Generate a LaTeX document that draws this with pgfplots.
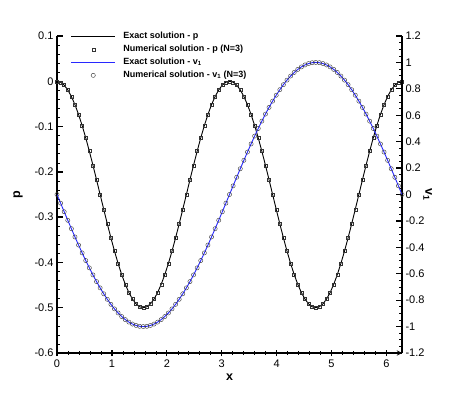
\documentclass[border=0pt]{standalone}
\usepackage{fontspec}
\setmainfont{Liberation Sans}
\usepackage{pgfplots}
\usepackage{pgfplotstable}
\pgfplotsset{compat=1.18}

\definecolor{vblue}{RGB}{40,40,255}

% x, exact p, exact v1
\pgfplotstableread{
x p v
0.0000 0 0
0.0654 -0.0021 -0.0654
0.1309 -0.0085 -0.1305
0.1963 -0.0190 -0.1951
0.2618 -0.0335 -0.2588
0.3272 -0.0517 -0.3214
0.3927 -0.0732 -0.3827
0.4581 -0.0978 -0.4423
0.5236 -0.1250 -0.5000
0.5890 -0.1543 -0.5556
0.6545 -0.1853 -0.6088
0.7199 -0.2174 -0.6593
0.7854 -0.2500 -0.7071
0.8508 -0.2826 -0.7518
0.9163 -0.3147 -0.7934
0.9817 -0.3457 -0.8315
1.0472 -0.3750 -0.8660
1.1126 -0.4022 -0.8969
1.1781 -0.4268 -0.9239
1.2435 -0.4483 -0.9469
1.3090 -0.4665 -0.9659
1.3744 -0.4810 -0.9808
1.4399 -0.4915 -0.9914
1.5053 -0.4979 -0.9979
1.5708 -0.5000 -1.0000
1.6362 -0.4979 -0.9979
1.7017 -0.4915 -0.9914
1.7671 -0.4810 -0.9808
1.8326 -0.4665 -0.9659
1.8980 -0.4483 -0.9469
1.9635 -0.4268 -0.9239
2.0289 -0.4022 -0.8969
2.0944 -0.3750 -0.8660
2.1598 -0.3457 -0.8315
2.2253 -0.3147 -0.7934
2.2907 -0.2826 -0.7518
2.3562 -0.2500 -0.7071
2.4216 -0.2174 -0.6593
2.4871 -0.1853 -0.6088
2.5525 -0.1543 -0.5556
2.6180 -0.1250 -0.5000
2.6834 -0.0978 -0.4423
2.7489 -0.0732 -0.3827
2.8143 -0.0517 -0.3214
2.8798 -0.0335 -0.2588
2.9452 -0.0190 -0.1951
3.0107 -0.0085 -0.1305
3.0761 -0.0021 -0.0654
3.1416 0 0
3.2070 -0.0021 0.0654
3.2725 -0.0085 0.1305
3.3379 -0.0190 0.1951
3.4034 -0.0335 0.2588
3.4688 -0.0517 0.3214
3.5343 -0.0732 0.3827
3.5997 -0.0978 0.4423
3.6652 -0.1250 0.5000
3.7306 -0.1543 0.5556
3.7961 -0.1853 0.6088
3.8615 -0.2174 0.6593
3.9270 -0.2500 0.7071
3.9924 -0.2826 0.7518
4.0579 -0.3147 0.7934
4.1233 -0.3457 0.8315
4.1888 -0.3750 0.8660
4.2542 -0.4022 0.8969
4.3197 -0.4268 0.9239
4.3851 -0.4483 0.9469
4.4506 -0.4665 0.9659
4.5160 -0.4810 0.9808
4.5815 -0.4915 0.9914
4.6469 -0.4979 0.9979
4.7124 -0.5000 1.0000
4.7778 -0.4979 0.9979
4.8433 -0.4915 0.9914
4.9087 -0.4810 0.9808
4.9742 -0.4665 0.9659
5.0396 -0.4483 0.9469
5.1051 -0.4268 0.9239
5.1705 -0.4022 0.8969
5.2360 -0.3750 0.8660
5.3014 -0.3457 0.8315
5.3669 -0.3147 0.7934
5.4323 -0.2826 0.7518
5.4978 -0.2500 0.7071
5.5632 -0.2174 0.6593
5.6287 -0.1853 0.6088
5.6941 -0.1543 0.5556
5.7596 -0.1250 0.5000
5.8250 -0.0978 0.4423
5.8905 -0.0732 0.3827
5.9559 -0.0517 0.3214
6.0214 -0.0335 0.2588
6.0868 -0.0190 0.1951
6.1523 -0.0085 0.1305
6.2177 -0.0021 0.0654
6.2832 0 0
}\data

\pgfplotsset{
    common/.style={
        at={(0,0)}, anchor=south west,
        scale only axis, width=345pt, height=317pt,
        xmin=0, xmax=6.2832,
        axis line style={-, line width=1.3pt},
        tick align=inside,
        major tick length=6pt, minor tick length=3.5pt,
        major tick style={line width=1.3pt, black},
        minor tick style={line width=0.6pt, black},
        ticklabel style={font=\fontsize{11}{13}\selectfont},
        /pgf/number format/assume math mode=true,
        label style={font=\fontsize{12.5}{14}\selectfont\bfseries},
    },
    lineleg/.style={legend image code/.code={
        \draw[##1, line width=0.7pt] (0pt,0pt) -- (44pt,0pt);
        \path[draw=none] (50pt,0pt) circle (0.1pt);}},
    markleg/.style={legend image code/.code={
        \draw[##1] plot coordinates {(22pt,0pt)};
        \path[draw=none] (0pt,0pt) circle (0.1pt) (50pt,0pt) circle (0.1pt);}},
    psq/.style={only marks, mark=square, mark size=1.5pt, mark options={black!80, line width=0.4pt}},
    vci/.style={only marks, mark=o, mark size=2.1pt, mark options={black!80, line width=0.4pt}},
}

\begin{document}
\begin{tikzpicture}
\path[use as bounding box] (-57pt,-46pt) rectangle (392pt,353pt);

% --- left axis: p ---
\begin{axis}[
    common,
    ymin=-0.6, ymax=0.1,
    axis x line=bottom, axis y line*=left,
    xtick={0,1,2,3,4,5,6}, minor x tick num=4,
    ytick={-0.6,-0.5,-0.4,-0.3,-0.2,-0.1,0,0.1}, minor y tick num=4,
    yticklabel style={/pgf/number format/fixed, /pgf/number format/precision=1},
    xlabel={x}, ylabel={p},
    ylabel style={yshift=5pt},
    legend style={at={(0.031,1.025)}, anchor=north west, draw=none, fill=none,
        font=\fontsize{9}{10}\selectfont\bfseries, row sep=1pt},
    legend cell align=left,
]
\addplot[black, line width=0.9pt, lineleg] table[x=x, y=p] {\data};
\addlegendentry{Exact solution - p}
\addplot[psq, markleg] table[x=x, y=p] {\data};
\addlegendentry{Numerical solution - p (N=3)}
\addlegendimage{vblue, line width=0.9pt, lineleg}
\addlegendentry{Exact solution - v\textsubscript{1}}
\addlegendimage{vci, markleg}
\addlegendentry{Numerical solution - v\textsubscript{1} (N=3)}
\end{axis}

% --- right axis: v1 ---
\begin{axis}[
    common,
    ymin=-1.2, ymax=1.2,
    axis x line=none, axis y line*=right,
    ytick={-1.2,-1,-0.8,-0.6,-0.4,-0.2,0,0.2,0.4,0.6,0.8,1,1.2}, minor y tick num=3,
    yticklabel style={/pgf/number format/fixed, /pgf/number format/precision=1},
    ylabel={v\textsubscript{1}}, ylabel style={rotate=180, yshift=-8pt},
]
\addplot[vblue, line width=0.9pt] table[x=x, y=v] {\data};
\addplot[vci] table[x=x, y=v] {\data};
\end{axis}
\end{tikzpicture}
\end{document}
